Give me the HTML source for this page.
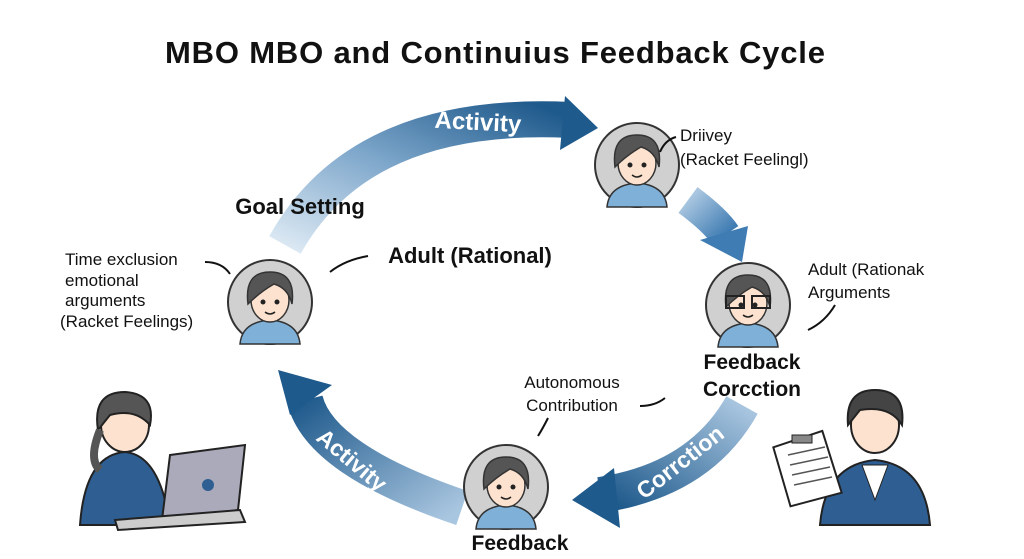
<!DOCTYPE html>
<html><head><meta charset="utf-8"><style>
html,body{margin:0;padding:0;background:#fff;width:1024px;height:559px;overflow:hidden}
svg{display:block}
text{font-family:"Liberation Sans",sans-serif}
</style></head><body>
<svg width="1024" height="559" viewBox="0 0 1024 559">
<defs>
<linearGradient id="g1" x1="0" y1="1" x2="1" y2="0"><stop offset="0" stop-color="#dbe8f3"/><stop offset="0.5" stop-color="#7ea7cb"/><stop offset="1" stop-color="#1f5a8c"/></linearGradient>
<linearGradient id="g2" x1="0" y1="0" x2="1" y2="1"><stop offset="0" stop-color="#a9c6e0"/><stop offset="1" stop-color="#3f7cb3"/></linearGradient>
<linearGradient id="g3" x1="1" y1="0" x2="0" y2="1"><stop offset="0" stop-color="#a9c6e0"/><stop offset="1" stop-color="#1f5a8c"/></linearGradient>
<linearGradient id="g4" x1="1" y1="1" x2="0" y2="0"><stop offset="0" stop-color="#a9c6e0"/><stop offset="1" stop-color="#1f5a8c"/></linearGradient>
<g id="face">
<circle r="42" fill="#d0d0d0" stroke="#333" stroke-width="2"/>
<path d="M-30,42 Q-28,20 0,18 Q28,20 30,42Z" fill="#7fb0d8" stroke="#333" stroke-width="1.5"/>
<ellipse cx="0" cy="-2" rx="19" ry="22" fill="#fde3cf" stroke="#333" stroke-width="1.5"/>
<path d="M-22,2 Q-26,-30 0,-30 Q26,-30 22,2 Q18,-14 4,-18 Q-10,-10 -22,2Z" fill="#555" stroke="#333" stroke-width="1.5"/>
<circle cx="-7" cy="0" r="2.5" fill="#222"/><circle cx="7" cy="0" r="2.5" fill="#222"/>
<path d="M-5,10 Q0,14 5,10" stroke="#222" fill="none" stroke-width="1.5"/>
</g>
</defs>
<text x="495" y="63" font-size="31" font-weight="bold" text-anchor="middle" fill="#111" textLength="660">MBO MBO  and Continuius Feedback Cycle</text>

<!-- top arrow -->
<path d="M285,245 Q360,110 570,120" stroke="url(#g1)" stroke-width="36" fill="none"/>
<polygon points="565,96 598,128 560,150" fill="#1f5a8c"/>
<text x="478" y="130" font-size="24" font-weight="bold" fill="#fff" text-anchor="middle" transform="rotate(3 478 122)">Activity</text>
<!-- right arrow -->
<path d="M688,200 Q715,220 725,235" stroke="url(#g2)" stroke-width="32" fill="none"/>
<polygon points="700,240 748,226 742,262" fill="#3f7cb3"/>
<!-- bottom right arrow -->
<path d="M742,405 Q700,480 600,495" stroke="url(#g3)" stroke-width="36" fill="none"/>
<polygon points="614,468 572,500 620,528" fill="#1f5a8c"/>
<text x="680" y="470" font-size="23" font-weight="bold" fill="#fff" text-anchor="middle" transform="rotate(-38 680 462)">Corrction</text>
<!-- bottom left arrow -->
<path d="M462,508 Q320,460 305,400" stroke="url(#g4)" stroke-width="36" fill="none"/>
<polygon points="278,370 332,385 290,415" fill="#1f5a8c"/>
<text x="352" y="468" font-size="23" font-weight="bold" fill="#fff" text-anchor="middle" transform="rotate(40 352 460)">Activity</text>

<use href="#face" x="637" y="165"/>
<use href="#face" x="748" y="305"/>
<use href="#face" x="506" y="487"/>
<use href="#face" x="270" y="302"/>
<rect x="726" y="296" width="18" height="12" fill="none" stroke="#222" stroke-width="2"/>
<rect x="752" y="296" width="18" height="12" fill="none" stroke="#222" stroke-width="2"/>

<text x="300" y="214" font-size="22" font-weight="bold" text-anchor="middle" fill="#111">Goal Setting</text>
<text x="470" y="263" font-size="22" font-weight="bold" text-anchor="middle" fill="#111">Adult (Rational)</text>
<path d="M330,272 Q345,260 368,256" stroke="#111" fill="none" stroke-width="2"/>
<text x="752" y="369" font-size="21" font-weight="bold" text-anchor="middle" fill="#111">Feedback</text>
<text x="752" y="396" font-size="21" font-weight="bold" text-anchor="middle" fill="#111">Corcction</text>
<text x="520" y="550" font-size="21" font-weight="bold" text-anchor="middle" fill="#111">Feedback</text>

<g font-size="17" fill="#111">
<text x="680" y="141">Driivey</text>
<text x="680" y="165">(Racket Feelingl)</text>
<text x="65" y="265">Time exclusion</text>
<text x="65" y="286">emotional</text>
<text x="65" y="306">arguments</text>
<text x="60" y="327">(Racket Feelings)</text>
<text x="808" y="275">Adult (Rationak</text>
<text x="808" y="298">Arguments</text>
<text x="572" y="388" text-anchor="middle">Autonomous</text>
<text x="572" y="411" text-anchor="middle">Contribution</text>
</g>
<g stroke="#111" fill="none" stroke-width="2">
<path d="M676,137 Q665,140 660,152"/><path d="M205,262 Q222,262 230,274"/>
<path d="M835,305 Q825,322 808,330"/><path d="M640,406 Q655,406 665,398"/>
<path d="M548,418 Q543,428 538,436"/>
</g>

<!-- laptop person -->
<g>
<path d="M80,525 Q85,455 125,452 Q160,455 170,525Z" fill="#2f5f92" stroke="#222" stroke-width="2"/>
<ellipse cx="125" cy="425" rx="24" ry="27" fill="#fde3cf" stroke="#222" stroke-width="2"/>
<path d="M98,430 Q92,392 125,392 Q156,394 150,425 Q135,408 110,415Z" fill="#555" stroke="#222" stroke-width="2"/>
<path d="M100,430 Q88,460 100,470" stroke="#555" stroke-width="8" fill="none"/>
<polygon points="170,455 245,445 238,510 162,520" fill="#aab" stroke="#222" stroke-width="2"/>
<circle cx="208" cy="485" r="6" fill="#2f5f92"/>
<polygon points="115,520 240,510 245,522 118,530" fill="#ccc" stroke="#222" stroke-width="2"/>
</g>
<!-- clipboard person -->
<g>
<path d="M820,525 Q825,465 875,460 Q925,465 930,525Z" fill="#2f5f92" stroke="#222" stroke-width="2"/>
<polygon points="862,465 875,500 888,465" fill="#fff" stroke="#222"/>
<ellipse cx="875" cy="425" rx="24" ry="28" fill="#fde3cf" stroke="#222" stroke-width="2"/>
<path d="M848,425 Q845,390 875,390 Q906,390 902,425 Q890,405 860,410Z" fill="#444" stroke="#222" stroke-width="2"/>
<polygon points="775,445 825,432 840,495 788,505" fill="#fff" stroke="#222" stroke-width="2" transform="rotate(-4 808 470)"/>
<g stroke="#555" stroke-width="1.5"><line x1="788" y1="455" x2="825" y2="447"/><line x1="790" y1="465" x2="828" y2="457"/><line x1="792" y1="475" x2="830" y2="467"/><line x1="794" y1="485" x2="832" y2="477"/></g>
<rect x="792" y="435" width="20" height="8" fill="#888" stroke="#222"/>
</g>
</svg>
</body></html>
